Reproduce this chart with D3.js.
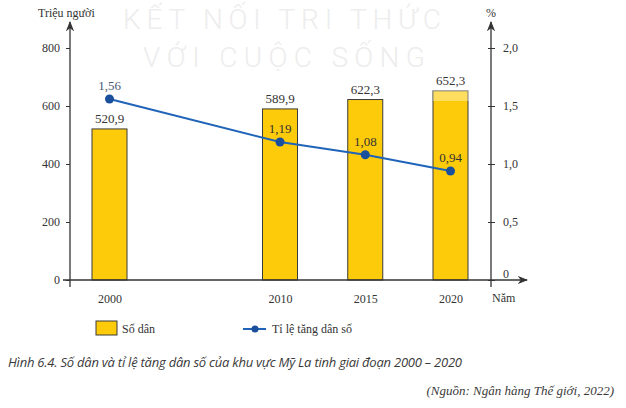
<!DOCTYPE html>
<html>
<head>
<meta charset="utf-8">
<script src="https://cdn.jsdelivr.net/npm/d3@7"></script>
<style>
  body { margin: 0; background: #fff; }
  text { font-family: "Liberation Serif", "DejaVu Serif", serif; fill: #333; }
  text.wm { font-family: "Roboto", "DejaVu Sans", sans-serif; font-weight: 300; font-size: 28px; fill: #ededed; }
</style>
</head>
<body>
<div id="app"></div>
<script>
// data
var years = [2000, 2010, 2015, 2020];
var population = [520.9, 589.9, 622.3, 652.3];
var growthRate = [1.56, 1.19, 1.08, 0.94];
var leftTicks = [0, 200, 400, 600, 800];
var rightTicks = [0, 0.5, 1.0, 1.5, 2.0];

var width = 626, height = 408;
var fmt = function (v, d) { return v.toFixed(d).replace(".", ","); };

var svg = d3.select("#app").append("svg").attr("width", width).attr("height", height);

// watermark
svg.append("text").attr("class", "wm").attr("x", 123).attr("y", 29).attr("textLength", 318)
  .attr("lengthAdjust", "spacing").text("KẾT NỐI TRI THỨC");
svg.append("text").attr("class", "wm").attr("x", 143).attr("y", 67).attr("textLength", 282)
  .attr("lengthAdjust", "spacing").text("VỚI CUỘC SỐNG");

var leftX = 70, rightX = 491, baseY = 280;
var x = d3.scaleLinear().domain([2000, 2020]).range([109.5, 450.5]);
var yL = d3.scaleLinear().domain([0, 800]).range([baseY, 48]);
var yR = d3.scaleLinear().domain([0, 2.0]).range([baseY, 48]);
var barW = 35;

svg.append("defs").append("marker")
  .attr("id", "arr").attr("viewBox", "0 0 10 10").attr("refX", 9).attr("refY", 5)
  .attr("markerWidth", 8).attr("markerHeight", 8).attr("orient", "auto-start-reverse")
  .append("path").attr("d", "M0,1 L10,5 L0,9 L3,5 Z").attr("fill", "#333");

// bars
svg.selectAll(".bar").data(years).enter().append("rect")
  .attr("x", function (d) { return x(d) - barW / 2; })
  .attr("y", function (d, i) { return yL(population[i]); })
  .attr("width", barW)
  .attr("height", function (d, i) { return baseY - yL(population[i]); })
  .attr("fill", "#fecb0a").attr("stroke", "#3a3a3a").attr("stroke-width", 1);

svg.selectAll(".blab").data(years).enter().append("text")
  .attr("x", function (d) { return x(d); })
  .attr("y", function (d, i) { return yL(population[i]) - 6; })
  .attr("text-anchor", "middle").style("font-size", "13px")
  .text(function (d, i) { return fmt(population[i], 1); });

// watermark veil over the 2020 bar top
svg.append("rect").attr("x", 433).attr("y", 86).attr("width", 37).attr("height", 15)
  .attr("fill", "#fff").attr("opacity", 0.35);

// left axis
var la = svg.append("g").attr("transform", "translate(" + leftX + ",0)")
  .call(d3.axisLeft(yL).tickValues(leftTicks).tickSize(4).tickPadding(6).tickFormat(d3.format("d")));
la.select(".domain").remove();
la.selectAll("text").style("font-size", "12px").attr("dy", "0.32em");
la.selectAll("line").attr("stroke", "#333");
svg.append("line").attr("x1", leftX).attr("x2", leftX).attr("y1", 287).attr("y2", 22)
  .attr("stroke", "#333").attr("stroke-width", 1.3).attr("marker-end", "url(#arr)");

// right axis
var ra = svg.append("g").attr("transform", "translate(" + rightX + ",0)")
  .call(d3.axisRight(yR).tickValues(rightTicks).tickSize(4).tickPadding(8)
    .tickFormat(function (d) { return d === 0 ? "0" : fmt(d, 1); }));
ra.select(".domain").remove();
ra.selectAll("text").style("font-size", "12px");
ra.selectAll("line").attr("stroke", "#333").attr("x1", -3);
ra.selectAll(".tick text").attr("dy", function (d) { return d === 0 ? "-0.2em" : "0.32em"; });
svg.append("line").attr("x1", rightX).attr("x2", rightX).attr("y1", 287).attr("y2", 22)
  .attr("stroke", "#333").attr("stroke-width", 1.3).attr("marker-end", "url(#arr)");

// x axis
svg.append("line").attr("x1", 63).attr("x2", 527).attr("y1", baseY).attr("y2", baseY)
  .attr("stroke", "#333").attr("stroke-width", 1.3).attr("marker-end", "url(#arr)");
var xa = svg.append("g").attr("transform", "translate(0," + baseY + ")")
  .call(d3.axisBottom(x).tickValues(years).tickSize(0).tickPadding(14).tickFormat(d3.format("d")));
xa.select(".domain").remove();
xa.selectAll("text").style("font-size", "12px");

// axis titles
svg.append("text").attr("x", 38).attr("y", 17).style("font-size", "12px").text("Triệu người");
svg.append("text").attr("x", 491).attr("y", 17).attr("text-anchor", "middle").style("font-size", "12px").text("%");
svg.append("text").attr("x", 492).attr("y", 302).style("font-size", "12px").text("Năm");

// line
var line = d3.line().x(function (d, i) { return x(years[i]); }).y(function (d) { return yR(d); });
svg.append("path").datum(growthRate).attr("d", line)
  .attr("fill", "none").attr("stroke", "#1f64b8").attr("stroke-width", 2);
svg.selectAll(".dot").data(growthRate).enter().append("circle")
  .attr("cx", function (d, i) { return x(years[i]); })
  .attr("cy", function (d) { return yR(d); })
  .attr("r", 4.5).attr("fill", "#1a4f9c");
svg.selectAll(".llab").data(growthRate).enter().append("text")
  .attr("x", function (d, i) { return x(years[i]); })
  .attr("y", function (d) { return yR(d) - 9; })
  .attr("text-anchor", "middle").style("font-size", "13px")
  .style("fill", function (d, i) { return i === 0 ? "#4a5a78" : "#333"; })
  .text(function (d) { return fmt(d, 2); });

// legend
svg.append("rect").attr("x", 96).attr("y", 321).attr("width", 21).attr("height", 14)
  .attr("fill", "#fecb0a").attr("stroke", "#3a3a3a");
svg.append("text").attr("x", 122).attr("y", 333).style("font-size", "12px").text("Số dân");
svg.append("line").attr("x1", 243).attr("x2", 266).attr("y1", 329).attr("y2", 329)
  .attr("stroke", "#1f64b8").attr("stroke-width", 2);
svg.append("circle").attr("cx", 255).attr("cy", 329).attr("r", 3.5).attr("fill", "#1a4f9c");
svg.append("text").attr("x", 272).attr("y", 333).style("font-size", "12px").text("Tỉ lệ tăng dân số");

// caption
svg.append("text").attr("x", 8).attr("y", 367).attr("textLength", 454)
  .style("font-family", "'Open Sans', sans-serif")
  .style("font-style", "italic").style("font-size", "13px").style("fill", "#3a3a3a")
  .text("Hình 6.4. Số dân và tỉ lệ tăng dân số của khu vực Mỹ La tinh giai đoạn 2000 – 2020");
svg.append("text").attr("x", 614).attr("y", 395).attr("text-anchor", "end")
  .style("font-style", "italic").style("font-size", "13px").style("fill", "#3a3a3a")
  .text("(Nguồn: Ngân hàng Thế giới, 2022)");
</script>
</body>
</html>
